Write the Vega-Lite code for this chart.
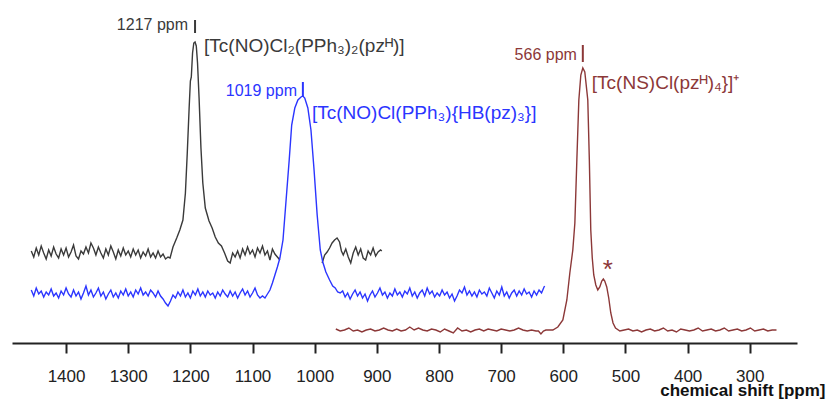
{
  "$schema": "https://vega.github.io/schema/vega-lite/v6.json",
  "width": 785,
  "height": 343,
  "autosize": {"type": "none"},
  "padding": {"left": 12, "top": 0, "right": 31, "bottom": 60},
  "background": "white",
  "view": {"stroke": null},
  "config": {"font": "Liberation Sans"},
  "datasets": {
    "spectra": [
      {"series":"A","seg":"A1","ppm":1456,"v":92},{"series":"A","seg":"A1","ppm":1452,"v":86},{"series":"A","seg":"A1","ppm":1448,"v":95},{"series":"A","seg":"A1","ppm":1444,"v":88},{"series":"A","seg":"A1","ppm":1440,"v":97},{"series":"A","seg":"A1","ppm":1436,"v":90},{"series":"A","seg":"A1","ppm":1432,"v":84},{"series":"A","seg":"A1","ppm":1428,"v":93},{"series":"A","seg":"A1","ppm":1424,"v":87},{"series":"A","seg":"A1","ppm":1420,"v":96},{"series":"A","seg":"A1","ppm":1416,"v":89},{"series":"A","seg":"A1","ppm":1412,"v":85},{"series":"A","seg":"A1","ppm":1408,"v":94},{"series":"A","seg":"A1","ppm":1404,"v":88},{"series":"A","seg":"A1","ppm":1400,"v":95},{"series":"A","seg":"A1","ppm":1396,"v":86},{"series":"A","seg":"A1","ppm":1392,"v":91},{"series":"A","seg":"A1","ppm":1388,"v":98},{"series":"A","seg":"A1","ppm":1384,"v":87},{"series":"A","seg":"A1","ppm":1380,"v":84},{"series":"A","seg":"A1","ppm":1376,"v":92},{"series":"A","seg":"A1","ppm":1372,"v":89},{"series":"A","seg":"A1","ppm":1368,"v":96},{"series":"A","seg":"A1","ppm":1364,"v":90},{"series":"A","seg":"A1","ppm":1360,"v":100},{"series":"A","seg":"A1","ppm":1356,"v":95},{"series":"A","seg":"A1","ppm":1352,"v":88},{"series":"A","seg":"A1","ppm":1348,"v":96},{"series":"A","seg":"A1","ppm":1344,"v":90},{"series":"A","seg":"A1","ppm":1340,"v":85},{"series":"A","seg":"A1","ppm":1336,"v":94},{"series":"A","seg":"A1","ppm":1332,"v":88},{"series":"A","seg":"A1","ppm":1328,"v":97},{"series":"A","seg":"A1","ppm":1324,"v":91},{"series":"A","seg":"A1","ppm":1320,"v":84},{"series":"A","seg":"A1","ppm":1316,"v":93},{"series":"A","seg":"A1","ppm":1312,"v":87},{"series":"A","seg":"A1","ppm":1308,"v":95},{"series":"A","seg":"A1","ppm":1304,"v":88},{"series":"A","seg":"A1","ppm":1300,"v":92},{"series":"A","seg":"A1","ppm":1296,"v":86},{"series":"A","seg":"A1","ppm":1292,"v":94},{"series":"A","seg":"A1","ppm":1288,"v":88},{"series":"A","seg":"A1","ppm":1284,"v":93},{"series":"A","seg":"A1","ppm":1280,"v":85},{"series":"A","seg":"A1","ppm":1276,"v":91},{"series":"A","seg":"A1","ppm":1272,"v":87},{"series":"A","seg":"A1","ppm":1268,"v":94},{"series":"A","seg":"A1","ppm":1264,"v":86},{"series":"A","seg":"A1","ppm":1260,"v":90},{"series":"A","seg":"A1","ppm":1256,"v":85},{"series":"A","seg":"A1","ppm":1252,"v":92},{"series":"A","seg":"A1","ppm":1248,"v":86},{"series":"A","seg":"A1","ppm":1244,"v":89},{"series":"A","seg":"A1","ppm":1240,"v":84},{"series":"A","seg":"A1","ppm":1236,"v":86},
      {"series":"A","seg":"A1","ppm":1232.7,"v":85},{"series":"A","seg":"A1","ppm":1228,"v":96},{"series":"A","seg":"A1","ppm":1222,"v":105},{"series":"A","seg":"A1","ppm":1217,"v":113},{"series":"A","seg":"A1","ppm":1212,"v":123},{"series":"A","seg":"A1","ppm":1208,"v":150},{"series":"A","seg":"A1","ppm":1205,"v":190},{"series":"A","seg":"A1","ppm":1202,"v":235},{"series":"A","seg":"A1","ppm":1200,"v":262},{"series":"A","seg":"A1","ppm":1198.5,"v":266},{"series":"A","seg":"A1","ppm":1196.5,"v":290},{"series":"A","seg":"A1","ppm":1194.5,"v":300},{"series":"A","seg":"A1","ppm":1192.5,"v":301},{"series":"A","seg":"A1","ppm":1190.5,"v":297},{"series":"A","seg":"A1","ppm":1188.5,"v":280},{"series":"A","seg":"A1","ppm":1186,"v":245},{"series":"A","seg":"A1","ppm":1183,"v":195},{"series":"A","seg":"A1","ppm":1180,"v":160},{"series":"A","seg":"A1","ppm":1176,"v":135},{"series":"A","seg":"A1","ppm":1170,"v":122},{"series":"A","seg":"A1","ppm":1165,"v":115},{"series":"A","seg":"A1","ppm":1160,"v":106},{"series":"A","seg":"A1","ppm":1155,"v":100},{"series":"A","seg":"A1","ppm":1150,"v":97},{"series":"A","seg":"A1","ppm":1145,"v":90},{"series":"A","seg":"A1","ppm":1140,"v":82},{"series":"A","seg":"A1","ppm":1136,"v":80},
      {"series":"A","seg":"A1","ppm":1132,"v":90},{"series":"A","seg":"A1","ppm":1128,"v":86},{"series":"A","seg":"A1","ppm":1124,"v":92},{"series":"A","seg":"A1","ppm":1120,"v":85},{"series":"A","seg":"A1","ppm":1116,"v":94},{"series":"A","seg":"A1","ppm":1112,"v":88},{"series":"A","seg":"A1","ppm":1108,"v":96},{"series":"A","seg":"A1","ppm":1104,"v":89},{"series":"A","seg":"A1","ppm":1100,"v":93},{"series":"A","seg":"A1","ppm":1096,"v":86},{"series":"A","seg":"A1","ppm":1092,"v":95},{"series":"A","seg":"A1","ppm":1088,"v":90},{"series":"A","seg":"A1","ppm":1084,"v":97},{"series":"A","seg":"A1","ppm":1080,"v":88},{"series":"A","seg":"A1","ppm":1076,"v":92},{"series":"A","seg":"A1","ppm":1072,"v":83},{"series":"A","seg":"A1","ppm":1068,"v":94},{"series":"A","seg":"A1","ppm":1064,"v":89},{"series":"A","seg":"A1","ppm":1060,"v":86},{"series":"A","seg":"A1","ppm":1056,"v":83},
      {"series":"A","seg":"A2","ppm":988,"v":80},{"series":"A","seg":"A2","ppm":984,"v":88},{"series":"A","seg":"A2","ppm":980,"v":91},{"series":"A","seg":"A2","ppm":976,"v":95},{"series":"A","seg":"A2","ppm":972,"v":100},{"series":"A","seg":"A2","ppm":968,"v":103},{"series":"A","seg":"A2","ppm":964,"v":105},{"series":"A","seg":"A2","ppm":960,"v":101},{"series":"A","seg":"A2","ppm":957,"v":92},{"series":"A","seg":"A2","ppm":954,"v":88},{"series":"A","seg":"A2","ppm":950,"v":94},{"series":"A","seg":"A2","ppm":946,"v":86},{"series":"A","seg":"A2","ppm":942,"v":80},{"series":"A","seg":"A2","ppm":938,"v":90},{"series":"A","seg":"A2","ppm":934,"v":96},{"series":"A","seg":"A2","ppm":930,"v":88},{"series":"A","seg":"A2","ppm":926,"v":94},{"series":"A","seg":"A2","ppm":922,"v":85},{"series":"A","seg":"A2","ppm":918,"v":83},{"series":"A","seg":"A2","ppm":914,"v":92},{"series":"A","seg":"A2","ppm":910,"v":88},{"series":"A","seg":"A2","ppm":906,"v":95},{"series":"A","seg":"A2","ppm":902,"v":87},{"series":"A","seg":"A2","ppm":898,"v":91},{"series":"A","seg":"A2","ppm":894,"v":93},{"series":"A","seg":"A2","ppm":892,"v":92},

      {"series":"B","seg":"B","ppm":1456,"v":53},{"series":"B","seg":"B","ppm":1452,"v":47},{"series":"B","seg":"B","ppm":1448,"v":55},{"series":"B","seg":"B","ppm":1444,"v":49},{"series":"B","seg":"B","ppm":1440,"v":52},{"series":"B","seg":"B","ppm":1436,"v":46},{"series":"B","seg":"B","ppm":1432,"v":51},{"series":"B","seg":"B","ppm":1428,"v":48},{"series":"B","seg":"B","ppm":1424,"v":54},{"series":"B","seg":"B","ppm":1420,"v":47},{"series":"B","seg":"B","ppm":1416,"v":50},{"series":"B","seg":"B","ppm":1412,"v":45},{"series":"B","seg":"B","ppm":1408,"v":52},{"series":"B","seg":"B","ppm":1404,"v":48},{"series":"B","seg":"B","ppm":1400,"v":55},{"series":"B","seg":"B","ppm":1396,"v":49},{"series":"B","seg":"B","ppm":1392,"v":46},{"series":"B","seg":"B","ppm":1388,"v":53},{"series":"B","seg":"B","ppm":1384,"v":47},{"series":"B","seg":"B","ppm":1380,"v":51},{"series":"B","seg":"B","ppm":1376,"v":44},{"series":"B","seg":"B","ppm":1372,"v":50},{"series":"B","seg":"B","ppm":1368,"v":57},{"series":"B","seg":"B","ppm":1364,"v":48},{"series":"B","seg":"B","ppm":1360,"v":53},{"series":"B","seg":"B","ppm":1356,"v":46},{"series":"B","seg":"B","ppm":1352,"v":50},{"series":"B","seg":"B","ppm":1348,"v":55},{"series":"B","seg":"B","ppm":1344,"v":47},{"series":"B","seg":"B","ppm":1340,"v":51},{"series":"B","seg":"B","ppm":1336,"v":44},{"series":"B","seg":"B","ppm":1332,"v":49},{"series":"B","seg":"B","ppm":1328,"v":53},{"series":"B","seg":"B","ppm":1324,"v":46},{"series":"B","seg":"B","ppm":1320,"v":50},{"series":"B","seg":"B","ppm":1316,"v":45},{"series":"B","seg":"B","ppm":1312,"v":52},{"series":"B","seg":"B","ppm":1308,"v":48},{"series":"B","seg":"B","ppm":1304,"v":54},{"series":"B","seg":"B","ppm":1300,"v":47},{"series":"B","seg":"B","ppm":1296,"v":51},{"series":"B","seg":"B","ppm":1292,"v":46},{"series":"B","seg":"B","ppm":1288,"v":53},{"series":"B","seg":"B","ppm":1284,"v":49},{"series":"B","seg":"B","ppm":1280,"v":55},{"series":"B","seg":"B","ppm":1276,"v":48},{"series":"B","seg":"B","ppm":1272,"v":51},{"series":"B","seg":"B","ppm":1268,"v":47},{"series":"B","seg":"B","ppm":1264,"v":53},{"series":"B","seg":"B","ppm":1260,"v":50},{"series":"B","seg":"B","ppm":1256,"v":46},{"series":"B","seg":"B","ppm":1252,"v":52},{"series":"B","seg":"B","ppm":1248,"v":47},{"series":"B","seg":"B","ppm":1244,"v":44},{"series":"B","seg":"B","ppm":1240,"v":40},{"series":"B","seg":"B","ppm":1236,"v":37},{"series":"B","seg":"B","ppm":1232,"v":42},{"series":"B","seg":"B","ppm":1228,"v":48},{"series":"B","seg":"B","ppm":1224,"v":45},{"series":"B","seg":"B","ppm":1220,"v":51},{"series":"B","seg":"B","ppm":1216,"v":47},{"series":"B","seg":"B","ppm":1212,"v":53},{"series":"B","seg":"B","ppm":1208,"v":46},{"series":"B","seg":"B","ppm":1204,"v":50},{"series":"B","seg":"B","ppm":1200,"v":45},{"series":"B","seg":"B","ppm":1196,"v":52},{"series":"B","seg":"B","ppm":1192,"v":48},{"series":"B","seg":"B","ppm":1188,"v":54},{"series":"B","seg":"B","ppm":1184,"v":47},{"series":"B","seg":"B","ppm":1180,"v":51},{"series":"B","seg":"B","ppm":1176,"v":46},{"series":"B","seg":"B","ppm":1172,"v":52},{"series":"B","seg":"B","ppm":1168,"v":48},{"series":"B","seg":"B","ppm":1164,"v":50},{"series":"B","seg":"B","ppm":1160,"v":45},{"series":"B","seg":"B","ppm":1156,"v":51},{"series":"B","seg":"B","ppm":1152,"v":47},{"series":"B","seg":"B","ppm":1148,"v":53},{"series":"B","seg":"B","ppm":1144,"v":49},{"series":"B","seg":"B","ppm":1140,"v":46},{"series":"B","seg":"B","ppm":1136,"v":52},{"series":"B","seg":"B","ppm":1132,"v":47},{"series":"B","seg":"B","ppm":1128,"v":51},{"series":"B","seg":"B","ppm":1124,"v":45},{"series":"B","seg":"B","ppm":1120,"v":50},{"series":"B","seg":"B","ppm":1116,"v":54},{"series":"B","seg":"B","ppm":1112,"v":48},{"series":"B","seg":"B","ppm":1108,"v":52},{"series":"B","seg":"B","ppm":1104,"v":46},{"series":"B","seg":"B","ppm":1100,"v":50},{"series":"B","seg":"B","ppm":1096,"v":55},{"series":"B","seg":"B","ppm":1092,"v":48},{"series":"B","seg":"B","ppm":1088,"v":45},{"series":"B","seg":"B","ppm":1084,"v":47},
      {"series":"B","seg":"B","ppm":1080,"v":45},{"series":"B","seg":"B","ppm":1076,"v":49},{"series":"B","seg":"B","ppm":1072,"v":53},{"series":"B","seg":"B","ppm":1068,"v":60},{"series":"B","seg":"B","ppm":1064,"v":68},{"series":"B","seg":"B","ppm":1060,"v":76},{"series":"B","seg":"B","ppm":1056,"v":85},{"series":"B","seg":"B","ppm":1051,"v":103},{"series":"B","seg":"B","ppm":1046,"v":143},{"series":"B","seg":"B","ppm":1041,"v":183},{"series":"B","seg":"B","ppm":1037,"v":218},{"series":"B","seg":"B","ppm":1032,"v":235},{"series":"B","seg":"B","ppm":1027,"v":243},{"series":"B","seg":"B","ppm":1022,"v":246},{"series":"B","seg":"B","ppm":1019,"v":247},{"series":"B","seg":"B","ppm":1016,"v":245},{"series":"B","seg":"B","ppm":1011,"v":235},{"series":"B","seg":"B","ppm":1006,"v":213},{"series":"B","seg":"B","ppm":1001,"v":173},{"series":"B","seg":"B","ppm":996,"v":128},{"series":"B","seg":"B","ppm":991,"v":93},{"series":"B","seg":"B","ppm":987,"v":81},{"series":"B","seg":"B","ppm":982,"v":71},{"series":"B","seg":"B","ppm":976,"v":63},{"series":"B","seg":"B","ppm":971,"v":57},{"series":"B","seg":"B","ppm":967,"v":55},{"series":"B","seg":"B","ppm":963,"v":51},{"series":"B","seg":"B","ppm":959,"v":50},
      {"series":"B","seg":"B","ppm":955,"v":52},{"series":"B","seg":"B","ppm":951,"v":46},{"series":"B","seg":"B","ppm":947,"v":50},{"series":"B","seg":"B","ppm":943,"v":44},{"series":"B","seg":"B","ppm":939,"v":49},{"series":"B","seg":"B","ppm":935,"v":53},{"series":"B","seg":"B","ppm":931,"v":47},{"series":"B","seg":"B","ppm":927,"v":51},{"series":"B","seg":"B","ppm":923,"v":45},{"series":"B","seg":"B","ppm":919,"v":49},{"series":"B","seg":"B","ppm":915,"v":42},{"series":"B","seg":"B","ppm":911,"v":48},{"series":"B","seg":"B","ppm":907,"v":52},{"series":"B","seg":"B","ppm":903,"v":46},{"series":"B","seg":"B","ppm":899,"v":50},{"series":"B","seg":"B","ppm":895,"v":55},{"series":"B","seg":"B","ppm":891,"v":48},{"series":"B","seg":"B","ppm":887,"v":51},{"series":"B","seg":"B","ppm":883,"v":45},{"series":"B","seg":"B","ppm":879,"v":50},{"series":"B","seg":"B","ppm":875,"v":47},{"series":"B","seg":"B","ppm":871,"v":54},{"series":"B","seg":"B","ppm":867,"v":48},{"series":"B","seg":"B","ppm":863,"v":51},{"series":"B","seg":"B","ppm":859,"v":46},{"series":"B","seg":"B","ppm":855,"v":52},{"series":"B","seg":"B","ppm":851,"v":49},{"series":"B","seg":"B","ppm":847,"v":55},{"series":"B","seg":"B","ppm":843,"v":47},{"series":"B","seg":"B","ppm":839,"v":51},{"series":"B","seg":"B","ppm":835,"v":45},{"series":"B","seg":"B","ppm":831,"v":50},{"series":"B","seg":"B","ppm":827,"v":53},{"series":"B","seg":"B","ppm":823,"v":47},{"series":"B","seg":"B","ppm":819,"v":55},{"series":"B","seg":"B","ppm":815,"v":49},{"series":"B","seg":"B","ppm":811,"v":52},{"series":"B","seg":"B","ppm":807,"v":46},{"series":"B","seg":"B","ppm":803,"v":50},{"series":"B","seg":"B","ppm":799,"v":47},{"series":"B","seg":"B","ppm":795,"v":53},{"series":"B","seg":"B","ppm":791,"v":48},{"series":"B","seg":"B","ppm":787,"v":51},{"series":"B","seg":"B","ppm":783,"v":45},{"series":"B","seg":"B","ppm":779,"v":49},{"series":"B","seg":"B","ppm":775,"v":42},{"series":"B","seg":"B","ppm":771,"v":47},{"series":"B","seg":"B","ppm":767,"v":53},{"series":"B","seg":"B","ppm":763,"v":50},{"series":"B","seg":"B","ppm":759,"v":56},{"series":"B","seg":"B","ppm":755,"v":48},{"series":"B","seg":"B","ppm":751,"v":52},{"series":"B","seg":"B","ppm":747,"v":47},{"series":"B","seg":"B","ppm":743,"v":51},{"series":"B","seg":"B","ppm":739,"v":46},{"series":"B","seg":"B","ppm":735,"v":53},{"series":"B","seg":"B","ppm":731,"v":49},{"series":"B","seg":"B","ppm":727,"v":51},{"series":"B","seg":"B","ppm":723,"v":47},{"series":"B","seg":"B","ppm":719,"v":55},{"series":"B","seg":"B","ppm":715,"v":50},{"series":"B","seg":"B","ppm":711,"v":45},{"series":"B","seg":"B","ppm":707,"v":52},{"series":"B","seg":"B","ppm":703,"v":48},{"series":"B","seg":"B","ppm":699,"v":56},{"series":"B","seg":"B","ppm":695,"v":47},{"series":"B","seg":"B","ppm":691,"v":51},{"series":"B","seg":"B","ppm":687,"v":45},{"series":"B","seg":"B","ppm":683,"v":50},{"series":"B","seg":"B","ppm":679,"v":53},{"series":"B","seg":"B","ppm":675,"v":47},{"series":"B","seg":"B","ppm":671,"v":52},{"series":"B","seg":"B","ppm":667,"v":48},{"series":"B","seg":"B","ppm":663,"v":54},{"series":"B","seg":"B","ppm":659,"v":49},{"series":"B","seg":"B","ppm":655,"v":51},{"series":"B","seg":"B","ppm":651,"v":46},{"series":"B","seg":"B","ppm":647,"v":52},{"series":"B","seg":"B","ppm":643,"v":48},{"series":"B","seg":"B","ppm":639,"v":53},{"series":"B","seg":"B","ppm":635,"v":50},{"series":"B","seg":"B","ppm":631,"v":56},{"series":"B","seg":"B","ppm":630,"v":57},

      {"series":"C","seg":"C","ppm":966,"v":14},{"series":"C","seg":"C","ppm":959,"v":12},{"series":"C","seg":"C","ppm":952,"v":13},{"series":"C","seg":"C","ppm":945,"v":15},{"series":"C","seg":"C","ppm":938,"v":12},{"series":"C","seg":"C","ppm":931,"v":13},{"series":"C","seg":"C","ppm":924,"v":11},{"series":"C","seg":"C","ppm":917,"v":13},{"series":"C","seg":"C","ppm":910,"v":14},{"series":"C","seg":"C","ppm":903,"v":12},{"series":"C","seg":"C","ppm":896,"v":13},{"series":"C","seg":"C","ppm":889,"v":15},{"series":"C","seg":"C","ppm":882,"v":13},{"series":"C","seg":"C","ppm":875,"v":12},{"series":"C","seg":"C","ppm":868,"v":14},{"series":"C","seg":"C","ppm":861,"v":12},{"series":"C","seg":"C","ppm":854,"v":13},{"series":"C","seg":"C","ppm":847,"v":16},{"series":"C","seg":"C","ppm":840,"v":13},{"series":"C","seg":"C","ppm":833,"v":15},{"series":"C","seg":"C","ppm":826,"v":13},{"series":"C","seg":"C","ppm":819,"v":12},{"series":"C","seg":"C","ppm":812,"v":14},{"series":"C","seg":"C","ppm":805,"v":13},{"series":"C","seg":"C","ppm":798,"v":11},{"series":"C","seg":"C","ppm":791,"v":14},{"series":"C","seg":"C","ppm":784,"v":12},{"series":"C","seg":"C","ppm":777,"v":10},{"series":"C","seg":"C","ppm":770,"v":15},{"series":"C","seg":"C","ppm":763,"v":12},{"series":"C","seg":"C","ppm":756,"v":13},{"series":"C","seg":"C","ppm":749,"v":11},{"series":"C","seg":"C","ppm":742,"v":13},{"series":"C","seg":"C","ppm":735,"v":14},{"series":"C","seg":"C","ppm":728,"v":12},{"series":"C","seg":"C","ppm":721,"v":14},{"series":"C","seg":"C","ppm":714,"v":13},{"series":"C","seg":"C","ppm":707,"v":12},{"series":"C","seg":"C","ppm":700,"v":14},{"series":"C","seg":"C","ppm":693,"v":13},{"series":"C","seg":"C","ppm":686,"v":12},{"series":"C","seg":"C","ppm":679,"v":13},{"series":"C","seg":"C","ppm":672,"v":15},{"series":"C","seg":"C","ppm":665,"v":13},{"series":"C","seg":"C","ppm":658,"v":12},{"series":"C","seg":"C","ppm":651,"v":13},{"series":"C","seg":"C","ppm":644,"v":12},{"series":"C","seg":"C","ppm":640,"v":12},{"series":"C","seg":"C","ppm":636,"v":9},{"series":"C","seg":"C","ppm":632,"v":12},{"series":"C","seg":"C","ppm":628,"v":13},
      {"series":"C","seg":"C","ppm":624.8,"v":13},{"series":"C","seg":"C","ppm":616.8,"v":13},{"series":"C","seg":"C","ppm":608.8,"v":16},{"series":"C","seg":"C","ppm":600.7,"v":23},{"series":"C","seg":"C","ppm":594.3,"v":43},{"series":"C","seg":"C","ppm":589.5,"v":70},{"series":"C","seg":"C","ppm":584.7,"v":93},{"series":"C","seg":"C","ppm":581.4,"v":120},{"series":"C","seg":"C","ppm":578.2,"v":183},{"series":"C","seg":"C","ppm":575.0,"v":243},{"series":"C","seg":"C","ppm":571.8,"v":268},{"series":"C","seg":"C","ppm":568.6,"v":275},{"series":"C","seg":"C","ppm":565.4,"v":271},{"series":"C","seg":"C","ppm":560.6,"v":243},{"series":"C","seg":"C","ppm":558.1,"v":183},{"series":"C","seg":"C","ppm":555.8,"v":113},{"series":"C","seg":"C","ppm":553.4,"v":85},{"series":"C","seg":"C","ppm":551.0,"v":68},{"series":"C","seg":"C","ppm":547.7,"v":58},{"series":"C","seg":"C","ppm":544.5,"v":53},{"series":"C","seg":"C","ppm":541.3,"v":56},{"series":"C","seg":"C","ppm":538.1,"v":62},{"series":"C","seg":"C","ppm":535.6,"v":64},{"series":"C","seg":"C","ppm":533.3,"v":62},{"series":"C","seg":"C","ppm":530.1,"v":56},{"series":"C","seg":"C","ppm":526.9,"v":45},{"series":"C","seg":"C","ppm":523.6,"v":30},{"series":"C","seg":"C","ppm":520,"v":20},{"series":"C","seg":"C","ppm":516,"v":15},
      {"series":"C","seg":"C","ppm":509,"v":12},{"series":"C","seg":"C","ppm":502,"v":13},{"series":"C","seg":"C","ppm":495,"v":14},{"series":"C","seg":"C","ppm":488,"v":12},{"series":"C","seg":"C","ppm":481,"v":13},{"series":"C","seg":"C","ppm":474,"v":11},{"series":"C","seg":"C","ppm":467,"v":13},{"series":"C","seg":"C","ppm":460,"v":14},{"series":"C","seg":"C","ppm":453,"v":12},{"series":"C","seg":"C","ppm":446,"v":13},{"series":"C","seg":"C","ppm":439,"v":15},{"series":"C","seg":"C","ppm":432,"v":12},{"series":"C","seg":"C","ppm":425,"v":13},{"series":"C","seg":"C","ppm":418,"v":11},{"series":"C","seg":"C","ppm":411,"v":14},{"series":"C","seg":"C","ppm":404,"v":13},{"series":"C","seg":"C","ppm":397,"v":12},{"series":"C","seg":"C","ppm":390,"v":13},{"series":"C","seg":"C","ppm":383,"v":15},{"series":"C","seg":"C","ppm":376,"v":12},{"series":"C","seg":"C","ppm":369,"v":13},{"series":"C","seg":"C","ppm":362,"v":14},{"series":"C","seg":"C","ppm":355,"v":12},{"series":"C","seg":"C","ppm":348,"v":13},{"series":"C","seg":"C","ppm":341,"v":15},{"series":"C","seg":"C","ppm":334,"v":12},{"series":"C","seg":"C","ppm":327,"v":13},{"series":"C","seg":"C","ppm":320,"v":14},{"series":"C","seg":"C","ppm":313,"v":12},{"series":"C","seg":"C","ppm":306,"v":13},{"series":"C","seg":"C","ppm":299,"v":15},{"series":"C","seg":"C","ppm":292,"v":12},{"series":"C","seg":"C","ppm":285,"v":13},{"series":"C","seg":"C","ppm":278,"v":14},{"series":"C","seg":"C","ppm":271,"v":12},{"series":"C","seg":"C","ppm":264,"v":13},{"series":"C","seg":"C","ppm":257,"v":13}
    ],
    "markers": [
      {"series":"A","ppm":1192.5,"v1":323,"v2":310},
      {"series":"B","ppm":1019,"v1":261,"v2":246},
      {"series":"C","ppm":568.6,"v1":298,"v2":281}
    ],
    "ppmLabels": [
      {"series":"A","ppm":1203.8,"v":318,"text":"1217 ppm"},
      {"series":"B","ppm":1028.5,"v":252,"text":"1019 ppm"},
      {"series":"C","ppm":578.2,"v":288,"text":"566 ppm"}
    ],
    "formulas": [
      {"series":"A","ppm":1178,"v":297,"text":"[Tc(NO)Cl₂(PPh₃)₂(pzᴴ)]"},
      {"series":"B","ppm":1004.4,"v":230,"text":"[Tc(NO)Cl(PPh₃){HB(pz)₃}]"},
      {"series":"C","ppm":554.1,"v":260,"text":"[Tc(NS)Cl(pzᴴ)₄}]⁺"}
    ],
    "stars": [
      {"series":"C","ppm":528.4,"v":73,"text":"*"}
    ]
  },
  "encoding": {
    "x": {"field":"ppm","type":"quantitative",
      "scale":{"domain":[224,1487],"reverse":true,"nice":false,"zero":false},
      "axis":{"values":[1400,1300,1200,1100,1000,900,800,700,600,500,400,300],"format":"d",
        "grid":false,"domainWidth":2,"domainColor":"#222222","tickWidth":2,"tickSize":10,"tickColor":"#222222",
        "labelFont":"Liberation Sans","labelFontSize":17,"labelColor":"#222222","labelBaseline":"middle","labelPadding":23,
        "title":"chemical shift [ppm]","titleFont":"Liberation Sans","titleFontSize":17,"titleFontWeight":"bold","titleColor":"#111111",
        "titleX":813,"titleY":52,"titleAlign":"right","titleBaseline":"alphabetic","titleAnchor":null}}
  },
  "layer": [
    {
      "data":{"name":"spectra"},
      "mark":{"type":"line","strokeWidth":1.4,"interpolate":"linear"},
      "encoding":{
        "y":{"field":"v","type":"quantitative","scale":{"domain":[0,343],"nice":false,"zero":false},"axis":null},
        "color":{"field":"series","type":"nominal","scale":{"domain":["A","B","C"],"range":["#3a3a3a","#2b35ff","#8c3838"]},"legend":null},
        "detail":{"field":"seg"}
      }
    },
    {
      "data":{"name":"markers"},
      "mark":{"type":"rule","strokeWidth":2},
      "encoding":{
        "y":{"field":"v1","type":"quantitative","scale":{"domain":[0,343],"nice":false,"zero":false},"axis":null},
        "y2":{"field":"v2"},
        "color":{"field":"series","type":"nominal","legend":null}
      }
    },
    {
      "data":{"name":"ppmLabels"},
      "mark":{"type":"text","align":"right","baseline":"middle","fontSize":16,"font":"Liberation Sans"},
      "encoding":{
        "y":{"field":"v","type":"quantitative","scale":{"domain":[0,343],"nice":false,"zero":false},"axis":null},
        "text":{"field":"text"},
        "color":{"field":"series","type":"nominal","legend":null}
      }
    },
    {
      "data":{"name":"formulas"},
      "mark":{"type":"text","align":"left","baseline":"middle","fontSize":19,"font":"Liberation Sans"},
      "encoding":{
        "y":{"field":"v","type":"quantitative","scale":{"domain":[0,343],"nice":false,"zero":false},"axis":null},
        "text":{"field":"text"},
        "color":{"field":"series","type":"nominal","legend":null}
      }
    },
    {
      "data":{"name":"stars"},
      "mark":{"type":"text","align":"center","baseline":"middle","fontSize":26,"font":"Liberation Sans"},
      "encoding":{
        "y":{"field":"v","type":"quantitative","scale":{"domain":[0,343],"nice":false,"zero":false},"axis":null},
        "text":{"field":"text"},
        "color":{"field":"series","type":"nominal","legend":null}
      }
    }
  ]
}
